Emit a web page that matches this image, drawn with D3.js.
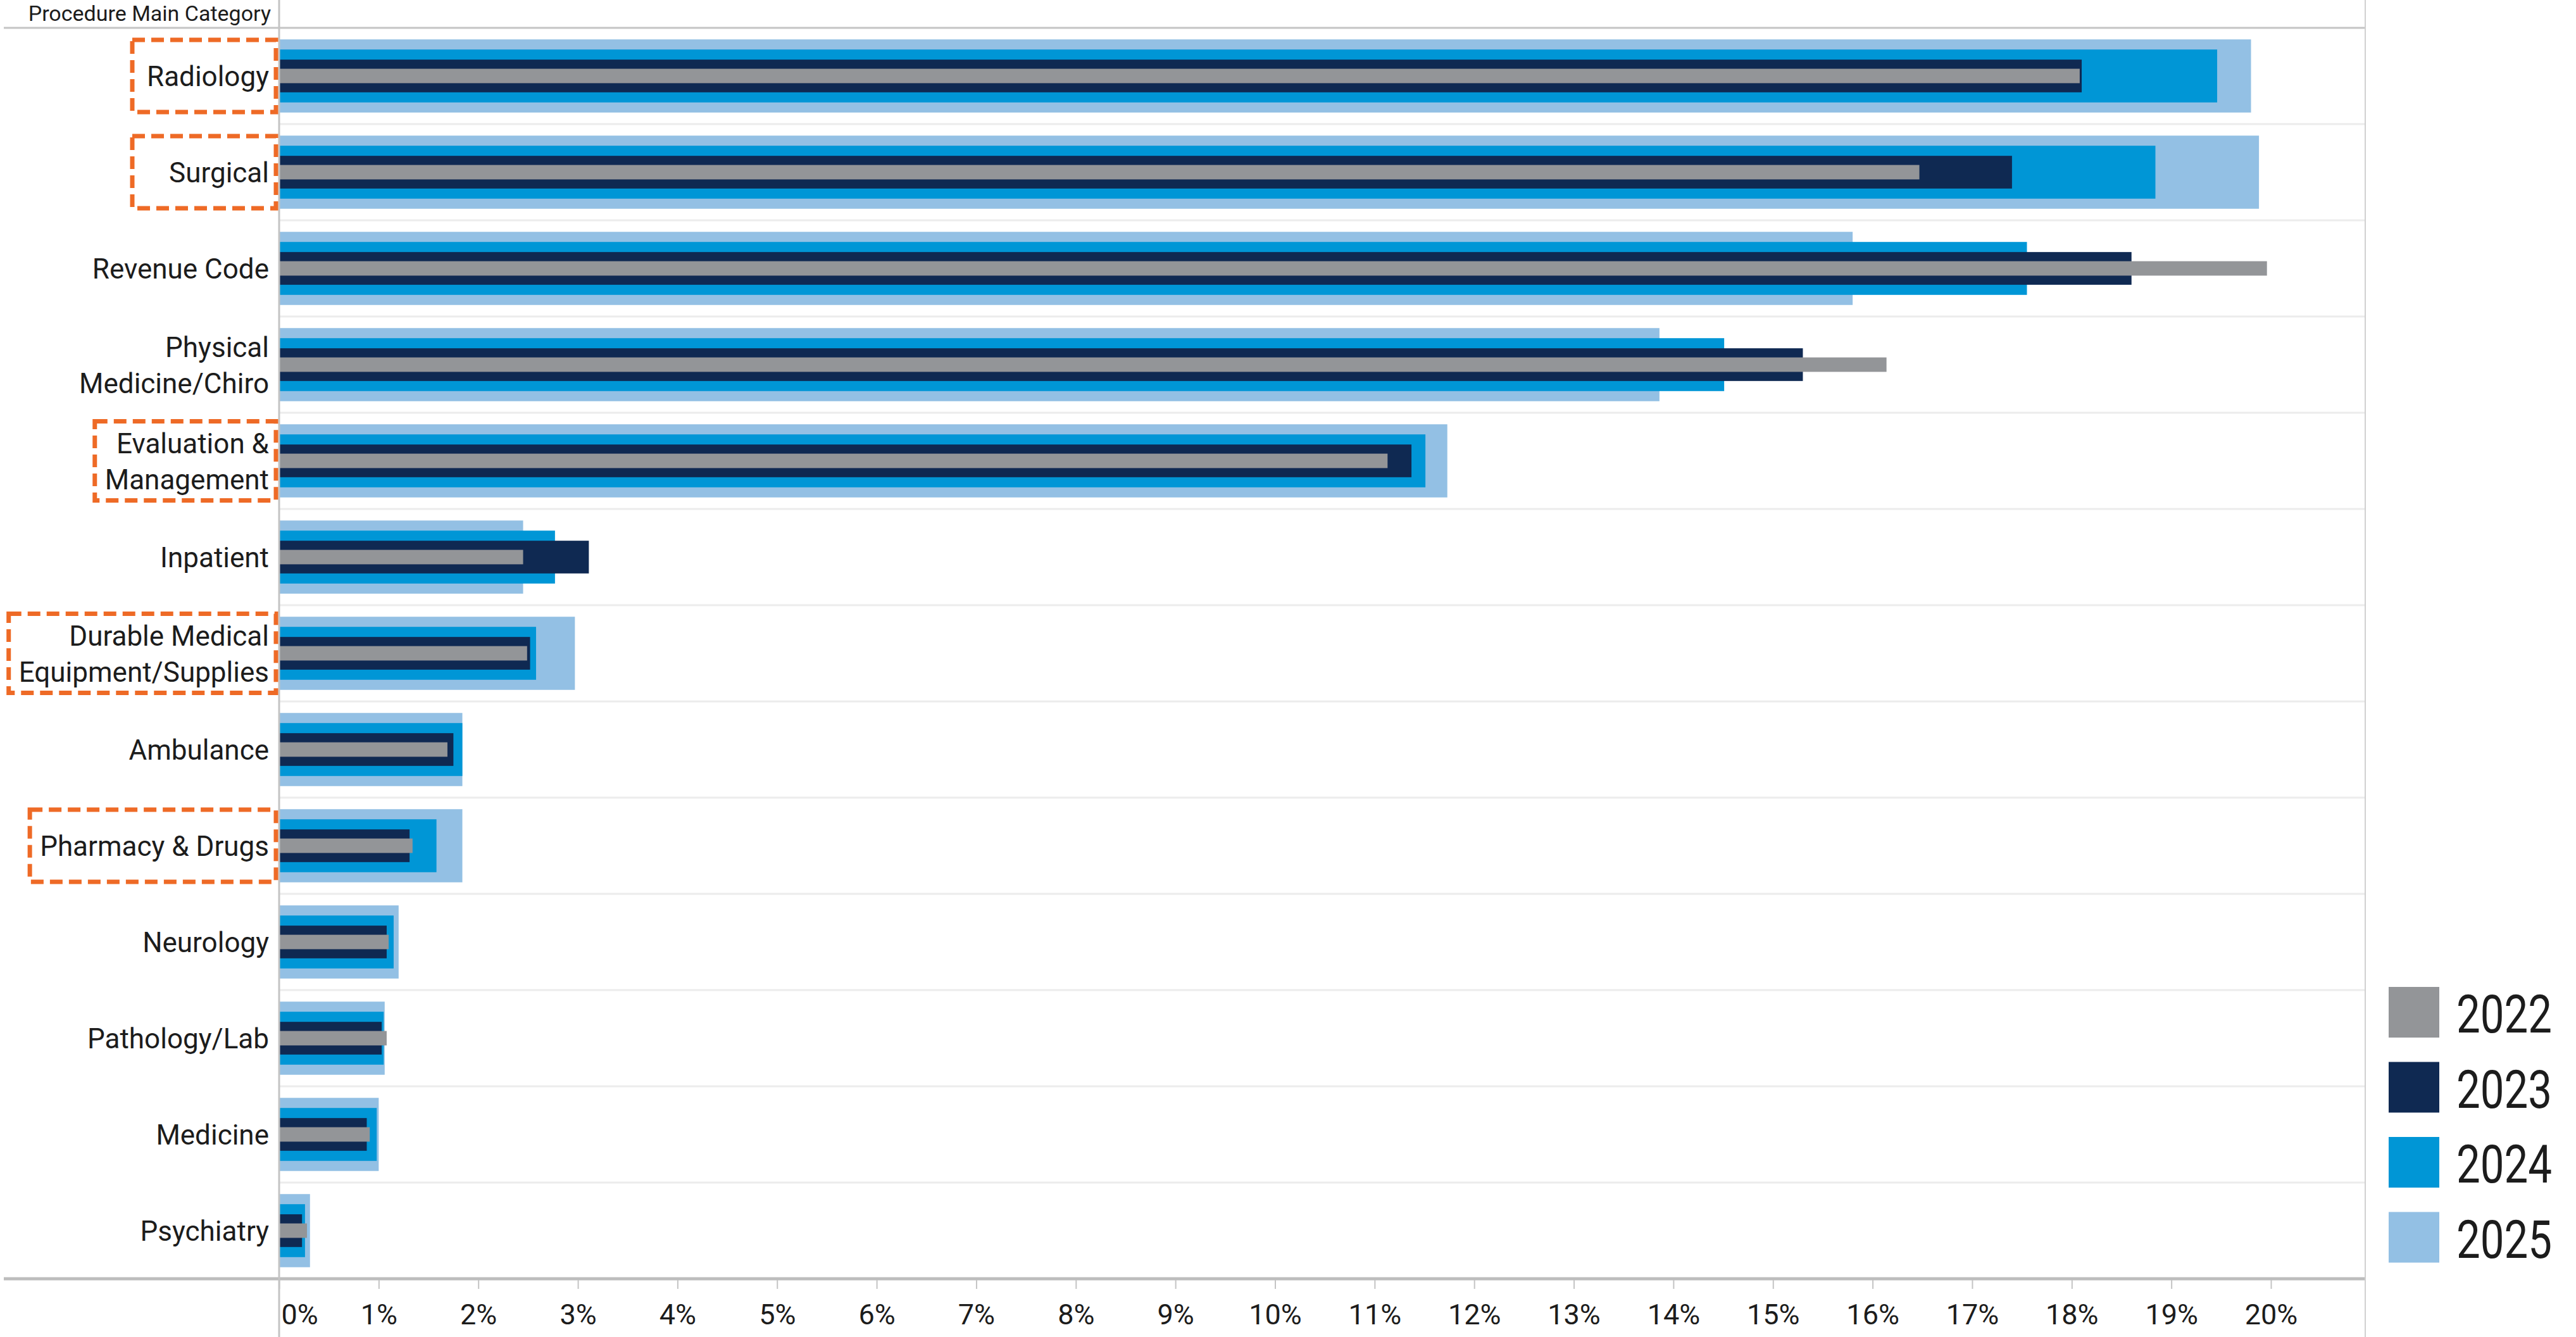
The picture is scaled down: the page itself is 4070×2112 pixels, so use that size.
<!DOCTYPE html>
<html>
<head>
<meta charset="utf-8">
<script src="https://cdnjs.cloudflare.com/ajax/libs/d3/7.8.5/d3.min.js"></script>
<style>
    html, body { margin: 0; padding: 0; background: #ffffff; }
    svg text { font-family: 'Roboto', 'Liberation Sans', sans-serif; fill: #1c1c1c; }
</style>
</head>
<body>
<svg id="chart" width="4070" height="2112"></svg>
<script>
// Категории (\n = перенос строки в подписи)
const CATEGORIES = [
    'Radiology',
    'Surgical',
    'Revenue Code',
    'Physical\nMedicine/Chiro',
    'Evaluation &\nManagement',
    'Inpatient',
    'Durable Medical\nEquipment/Supplies',
    'Ambulance',
    'Pharmacy & Drugs',
    'Neurology',
    'Pathology/Lab',
    'Medicine',
    'Psychiatry'
];

// Выделенные пунктирной рамкой
const HIGHLIGHTED = [
    'Radiology',
    'Surgical',
    'Evaluation &\nManagement',
    'Durable Medical\nEquipment/Supplies',
    'Pharmacy & Drugs'
];

const YEARS = ['2022', '2023', '2024', '2025'];

// Доли, %
const VALUES_2022 = [18.08, 16.47, 19.96, 16.14, 11.13, 2.45, 2.49, 1.69, 1.34, 1.10, 1.08, 0.91, 0.28];
const VALUES_2023 = [18.10, 17.40, 18.60, 15.30, 11.37, 3.11, 2.52, 1.75, 1.31, 1.08, 1.03, 0.88, 0.23];
const VALUES_2024 = [19.46, 18.84, 17.55, 14.51, 11.51, 2.77, 2.58, 1.84, 1.58, 1.15, 1.05, 0.98, 0.26];
const VALUES_2025 = [19.80, 19.88, 15.80, 13.86, 11.73, 2.45, 2.97, 1.84, 1.84, 1.20, 1.06, 1.00, 0.31];

const X_TICKS = [0, 1, 2, 3, 4, 5, 6, 7, 8, 9, 10, 11, 12, 13, 14, 15, 16, 17, 18, 19, 20];

const YEAR_COLORS = {
    '2022': '#939598',
    '2023': '#0f2952',
    '2024': '#0096d6',
    '2025': '#93c0e4'
};

// Толщина полос по годам (доля от высоты строки)
const BAR_FRAC = { '2025': 0.76, '2024': 0.55, '2023': 0.34, '2022': 0.15 };

const seriesByYear = {
    '2022': VALUES_2022,
    '2023': VALUES_2023,
    '2024': VALUES_2024,
    '2025': VALUES_2025
};

const svg = d3.select('#chart');

const plot = { left: 441, right: 3737, top: 44, bottom: 2020 };

const x = d3.scaleLinear()
    .domain([0, 20])
    .range([plot.left, 3588]);

const y = d3.scaleBand()
    .domain(CATEGORIES)
    .range([plot.top, plot.bottom]);

const rowH = y.bandwidth();

// Разделители строк
svg.append('g')
    .selectAll('line')
    .data(CATEGORIES.slice(1))
    .enter()
    .append('line')
    .attr('x1', plot.left)
    .attr('x2', plot.right)
    .attr('y1', d => y(d))
    .attr('y2', d => y(d))
    .attr('stroke', '#ececec')
    .attr('stroke-width', 3);

// Полосы: сначала самые широкие (2025), затем уже
['2025', '2024', '2023', '2022'].forEach(year => {
    const h = rowH * BAR_FRAC[year];
    svg.append('g')
        .selectAll('rect')
        .data(CATEGORIES.map((c, i) => ({ cat: c, v: seriesByYear[year][i] })))
        .enter()
        .append('rect')
        .attr('x', x(0))
        .attr('y', d => y(d.cat) + rowH / 2 - h / 2)
        .attr('width', d => x(d.v) - x(0))
        .attr('height', h)
        .attr('fill', YEAR_COLORS[year]);
});

// Рамки и оси
svg.append('line')
    .attr('x1', 6).attr('x2', plot.right)
    .attr('y1', plot.top).attr('y2', plot.top)
    .attr('stroke', '#c4c4c4').attr('stroke-width', 3);

svg.append('line')
    .attr('x1', 6).attr('x2', plot.right)
    .attr('y1', plot.bottom).attr('y2', plot.bottom)
    .attr('stroke', '#bdbdbd').attr('stroke-width', 5);

svg.append('line')
    .attr('x1', plot.left).attr('x2', plot.left)
    .attr('y1', 0).attr('y2', 2112)
    .attr('stroke', '#c4c4c4').attr('stroke-width', 3);

svg.append('line')
    .attr('x1', plot.right).attr('x2', plot.right)
    .attr('y1', 0).attr('y2', 2112)
    .attr('stroke', '#d0d0d0').attr('stroke-width', 2);

// Ось X
const xAxis = svg.append('g')
    .attr('transform', `translate(0,${plot.bottom + 2})`)
    .call(d3.axisBottom(x)
        .tickValues(X_TICKS)
        .tickSize(14)
        .tickFormat(d => d + '%'));

xAxis.select('.domain').remove();
xAxis.selectAll('.tick line').attr('stroke', '#c4c4c4').attr('stroke-width', 2);
xAxis.selectAll('.tick text')
    .attr('y', 70)
    .attr('dy', 0)
    .style('font-size', '45px')
    .style('font-family', "'Roboto', sans-serif")
    .attr('fill', '#1c1c1c')
    .attr('text-anchor', d => d === 0 ? 'start' : 'middle')
    .attr('x', d => d === 0 ? 3 : 0);

// Заголовок оси категорий
svg.append('text')
    .attr('x', 428)
    .attr('y', 33)
    .attr('text-anchor', 'end')
    .style('font-size', '34px')
    .text('Procedure Main Category');

// Подписи категорий
const LINE_GAP = 57;
const labels = svg.append('g')
    .selectAll('text')
    .data(CATEGORIES)
    .enter()
    .append('text')
    .attr('text-anchor', 'end')
    .style('font-size', '44px')
    .each(function (d) {
        const lines = d.split('\n');
        const cy = y(d) + rowH / 2;
        const first = cy - (lines.length - 1) * LINE_GAP / 2 + 16;
        lines.forEach((ln, k) => {
            d3.select(this).append('tspan')
                .attr('x', 425)
                .attr('y', first + k * LINE_GAP)
                .text(ln);
        });
    });

// Пунктирные рамки вокруг выделенных подписей
labels.filter(d => HIGHLIGHTED.includes(d)).each(function (d) {
    const bb = this.getBBox();
    const right = 436;
    const left = Math.min(bb.x - 16, right - 227);
    const cy = y(d) + rowH / 2;
    const half = Math.max(57, bb.height / 2 + 8);
    svg.append('rect')
        .attr('x', left)
        .attr('y', cy - half)
        .attr('width', right - left)
        .attr('height', half * 2)
        .attr('fill', 'none')
        .attr('stroke', '#ee6a26')
        .attr('stroke-width', 7)
        .attr('stroke-dasharray', '20,10');
});

// Легенда
const legend = svg.append('g')
    .selectAll('g')
    .data(YEARS)
    .enter()
    .append('g')
    .attr('transform', (d, i) => `translate(3774,${1559 + i * 118.5})`);

legend.append('rect')
    .attr('width', 80)
    .attr('height', 80)
    .attr('fill', d => YEAR_COLORS[d]);

legend.append('text')
    .attr('transform', 'translate(107,72) scale(0.8,1)')
    .style('font-size', '84px')
    .text(d => d);
</script>
</body>
</html>
